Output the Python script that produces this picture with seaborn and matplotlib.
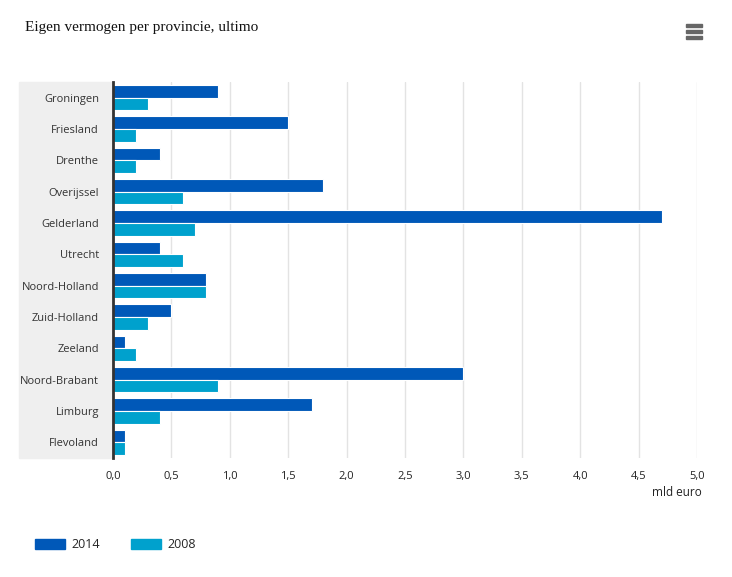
import pandas as pd
import matplotlib.pyplot as plt
import seaborn as sns
from matplotlib.patches import Rectangle, Patch

# Gegevens
provincies = ['Groningen', 'Friesland', 'Drenthe', 'Overijssel', 'Gelderland', 'Utrecht',
              'Noord-Holland', 'Zuid-Holland', 'Zeeland', 'Noord-Brabant', 'Limburg', 'Flevoland']
waarde_2014 = [0.9, 1.5, 0.4, 1.8, 4.7, 0.4, 0.8, 0.5, 0.1, 3.0, 1.7, 0.1]
waarde_2008 = [0.3, 0.2, 0.2, 0.6, 0.7, 0.6, 0.8, 0.3, 0.2, 0.9, 0.4, 0.1]
jaren = ['2014', '2008']
kleuren = ['#0058b8', '#00a1cd']
x_ticks = [0, 0.5, 1.0, 1.5, 2.0, 2.5, 3.0, 3.5, 4.0, 4.5, 5.0]

df = pd.DataFrame({
    'provincie': provincies * 2,
    'waarde': waarde_2014 + waarde_2008,
    'jaar': ['2014'] * len(provincies) + ['2008'] * len(provincies),
})

sns.set_style('white')
plt.rcParams['font.family'] = ['Open Sans', 'DejaVu Sans']

fig = plt.figure(figsize=(7.32, 5.77), dpi=100)
W, H = 732, 577
ax = fig.add_axes([113 / W, 1 - 458 / H, (697 - 113) / W, (458 - 82) / H])

# grijze band achter de categorielabels
fig.add_artist(Rectangle((19 / W, 1 - 458 / H), (113 - 19) / W, (458 - 82) / H,
                         transform=fig.transFigure, color='#efefef', zorder=0))

sns.barplot(data=df, y='provincie', x='waarde', hue='jaar', hue_order=jaren,
            palette=kleuren, saturation=1, orient='h', width=0.8, edgecolor='white',
            linewidth=0.8, legend=False, ax=ax, zorder=3)

ax.set_xlim(0, 5.0)
ax.set_ylim(len(provincies) - 0.5, -0.5)
ax.set_xticks(x_ticks)
ax.set_xticklabels([f'{t:.1f}'.replace('.', ',') for t in x_ticks], fontsize=8, color='#222222')
ax.grid(axis='x', color='#e3e3e3', linewidth=1, zorder=0)
ax.set_axisbelow(True)

ax.set_yticks(range(len(provincies)))
ax.set_yticklabels(provincies, fontsize=8, color='#333333')
ax.set_yticks([i - 0.5 for i in range(len(provincies) + 1)], minor=True)
ax.tick_params(axis='y', which='major', length=0, pad=10)
ax.tick_params(axis='y', which='minor', length=10, color='#cccccc', width=1)
ax.tick_params(axis='x', length=0, pad=9)

for s in ['top', 'right', 'bottom']:
    ax.spines[s].set_visible(False)
ax.spines['left'].set_color('#333333')
ax.spines['left'].set_linewidth(2)
ax.spines['left'].set_zorder(5)

ax.set_xlabel('')
ax.set_ylabel('')

fig.text(702 / W, 1 - 493 / H, 'mld euro', ha='right', va='center', fontsize=8.5, color='#222222')
fig.text(25 / W, 1 - 27 / H, 'Eigen vermogen per provincie, ultimo', ha='left', va='center',
         fontsize=11, family='Liberation Serif', color='#111111')

# menu-icoon
for yy in [25, 31, 37]:
    fig.add_artist(Rectangle((686 / W, 1 - (yy + 1.5) / H), 16 / W, 3 / H,
                             transform=fig.transFigure, color='#666666'))

handles = [Patch(color=c, label=j) for c, j in zip(kleuren, jaren)]
fig.legend(handles=handles, loc='center left', bbox_to_anchor=(24 / W, 1 - 545 / H), ncol=2,
           frameon=False, fontsize=9, handlelength=2.4, handleheight=0.85,
           columnspacing=2.5, handletextpad=0.5)

fig.savefig('out.png', dpi=100)
